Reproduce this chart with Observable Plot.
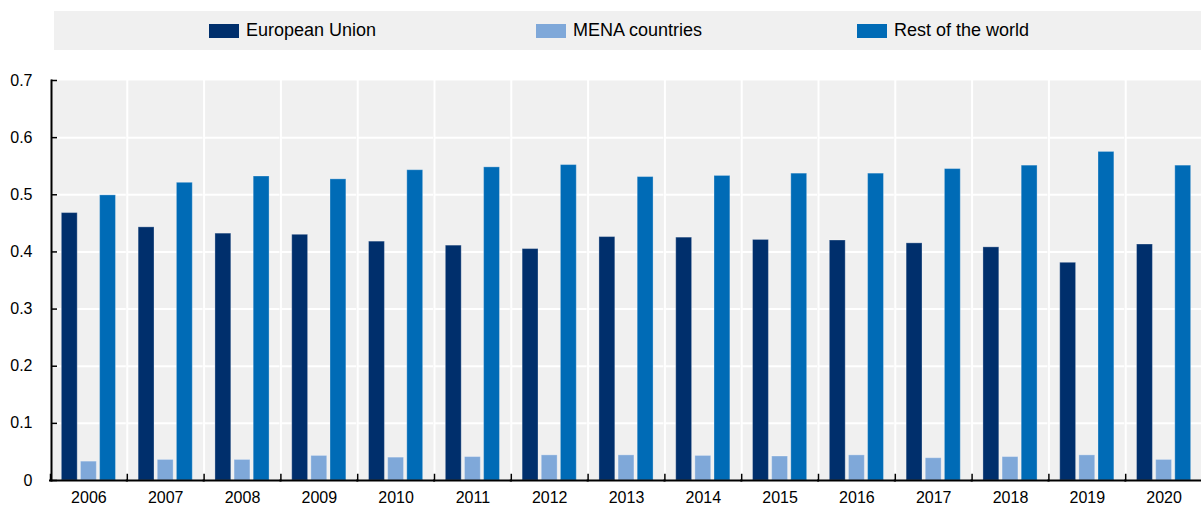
<!DOCTYPE html>
<html>
<head>
<meta charset="utf-8">
<script src="https://cdn.jsdelivr.net/npm/d3@7"></script>
<script src="https://cdn.jsdelivr.net/npm/@observablehq/plot@0.6"></script>
<style>
  html, body { margin: 0; padding: 0; background: #ffffff; }
  body { font-family: "Liberation Sans", Arial, sans-serif; width: 1201px; height: 505px; overflow: hidden; }
  #legend {
    margin: 11px 0 0 54px; width: 1147px; height: 39px; background: #f0f0f0;
    display: grid; grid-template-columns: 327px 321px auto; align-items: center;
    padding-left: 155px; box-sizing: border-box;
  }
  .item { display: flex; align-items: center; font-size: 18px; color: #000; white-space: nowrap; }
  .sw { width: 30px; height: 14px; margin-right: 7px; flex: none; }
  #chart svg { display: block; }
</style>
</head>
<body>
<div id="legend"></div>
<div id="chart"></div>
<script>
const years = [2006, 2007, 2008, 2009, 2010, 2011, 2012, 2013, 2014, 2015, 2016, 2017, 2018, 2019, 2020];
const seriesNames = ["European Union", "MENA countries", "Rest of the world"];
const euValues   = [0.468, 0.443, 0.432, 0.430, 0.418, 0.411, 0.405, 0.426, 0.425, 0.421, 0.420, 0.415, 0.408, 0.381, 0.413];
const menaValues = [0.033, 0.036, 0.036, 0.043, 0.040, 0.041, 0.044, 0.044, 0.043, 0.042, 0.044, 0.039, 0.041, 0.044, 0.036];
const restValues = [0.499, 0.521, 0.532, 0.527, 0.543, 0.548, 0.552, 0.531, 0.533, 0.537, 0.537, 0.545, 0.551, 0.575, 0.551];
const seriesColors = ["#002f6c", "#7fa8d9", "#006bb6"];
const yTicks = [0, 0.1, 0.2, 0.3, 0.4, 0.5, 0.6, 0.7];

const valuesBySeries = [euValues, menaValues, restValues];
const data = years.flatMap((year, i) =>
  seriesNames.map((series, s) => ({year, series, value: valuesBySeries[s][i]}))
);

// Legend
const legend = document.getElementById("legend");
seriesNames.forEach((name, i) => {
  const item = document.createElement("div");
  item.className = "item";
  const sw = document.createElement("span");
  sw.className = "sw";
  sw.style.background = seriesColors[i];
  const label = document.createElement("span");
  label.textContent = name;
  item.appendChild(sw);
  item.appendChild(label);
  legend.appendChild(item);
});

const chart = Plot.plot({
  width: 1201,
  height: 455,
  marginLeft: 51,
  marginRight: 0,
  marginTop: 30,
  marginBottom: 25,
  style: {fontFamily: "'Liberation Sans', Arial, sans-serif", fontSize: "16px", color: "#000", background: "transparent"},
  fx: {domain: years, paddingInner: 0.026, paddingOuter: 0, round: false, label: null},
  x: {domain: seriesNames, paddingInner: 0.17, paddingOuter: 0.54, round: false, axis: null},
  y: {domain: [0, 0.7], label: null},
  color: {domain: seriesNames, range: seriesColors},
  marks: [
    Plot.frame({fill: "#f0f0f0"}),
    Plot.gridY(yTicks.filter(d => d > 0 && d < 0.7), {stroke: "white", strokeOpacity: 1, strokeWidth: 2}),
    Plot.barY(data, {fx: "year", x: "series", y: "value", fill: "series", stroke: "white", strokeOpacity: 0.3, strokeWidth: 1}),
    Plot.axisY(yTicks, {tickSize: -6, tickPadding: 25, strokeWidth: 1.5, tickFormat: d => d === 0 ? "0" : d.toFixed(1), fontSize: 16, label: null}),
    Plot.axisFx({anchor: "bottom", tickSize: 0, tickPadding: 11, fontSize: 16, tickFormat: d => String(d), label: null}),
    Plot.frame({anchor: "left", stroke: "black", strokeWidth: 1.5, insetTop: 394, dx: -1}),
    Plot.frame({anchor: "left", stroke: "black", strokeWidth: 2, fx: () => years[0]}),
    Plot.ruleY([0], {stroke: "black", strokeWidth: 2, insetLeft: -2, insetRight: -2})
  ]
});
document.getElementById("chart").appendChild(chart);
</script>
</body>
</html>
